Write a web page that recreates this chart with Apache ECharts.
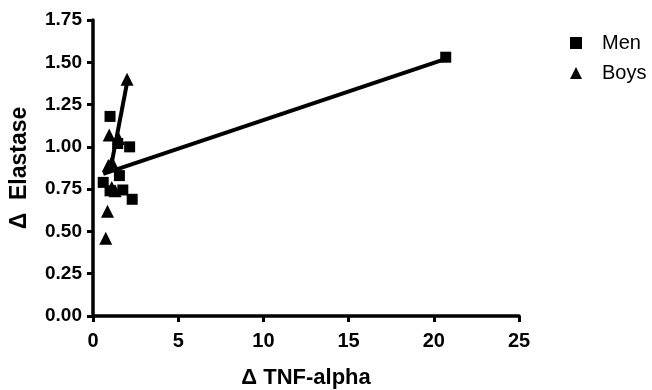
<!DOCTYPE html>
<html>
<head>
<meta charset="utf-8">
<script src="https://cdn.jsdelivr.net/npm/echarts@6/dist/echarts.min.js"></script>
<style>
  html, body { margin: 0; padding: 0; background: #fff; }
  #chart { width: 652px; height: 390px; }
</style>
</head>
<body>
<div id="chart"></div>
<script>
"use strict";
(() => {
    // delta TNF-alpha, delta elastase
    const menPoints = [
        [1.0, 1.18], [1.45, 1.02], [2.15, 1.00], [1.55, 0.83], [0.6, 0.79],
        [1.0, 0.74], [1.75, 0.745], [2.3, 0.69], [20.7, 1.53]
    ];
    const boysPoints = [
        [2.0, 1.40], [0.95, 1.07], [1.5, 1.05], [0.9, 0.89], [1.1, 0.91],
        [1.1, 0.76], [1.3, 0.74], [0.85, 0.62], [0.75, 0.46]
    ];
    const menFit = [[0.6, 0.84], [20.7, 1.52]];
    const boysFit = [[1.05, 0.88], [2.0, 1.38]];
    const xTicks = [0, 5, 10, 15, 20, 25];
    const yTicks = [0, 0.25, 0.5, 0.75, 1.0, 1.25, 1.5, 1.75];

    const font = "Liberation Sans";
    const axisLine = { show: true, onZero: false, lineStyle: { color: "#000", width: 3.5 } };
    const axisTick = { show: true, length: 6, lineStyle: { color: "#000", width: 3 } };

    const chart = echarts.init(document.getElementById("chart"));
    chart.setOption({
        animation: false,
        grid: { left: 93, top: 20, width: 426, height: 296, outerBoundsMode: "none", containLabel: false },
        legend: {
            orient: "vertical",
            left: 565,
            top: 28,
            itemGap: 10,
            itemWidth: 12,
            itemHeight: 12,
            textStyle: { fontFamily: font, fontSize: 20, color: "#000", padding: [0, 0, 0, 15] },
            data: [
                { name: "Men", icon: "rect", itemStyle: { opacity: 1 } },
                { name: "Boys", icon: "triangle", itemStyle: { opacity: 1 } }
            ]
        },
        xAxis: {
            type: "value",
            min: xTicks[0],
            max: xTicks[xTicks.length - 1],
            interval: 5,
            splitLine: { show: false },
            axisLine,
            axisTick,
            axisLabel: { fontFamily: font, fontWeight: "bold", fontSize: 20, color: "#000", margin: 15 },
            name: "\u0394 TNF-alpha",
            nameLocation: "middle",
            nameGap: 51,
            nameTextStyle: { fontFamily: font, fontWeight: "bold", fontSize: 22, color: "#000" }
        },
        yAxis: {
            type: "value",
            min: yTicks[0],
            max: yTicks[yTicks.length - 1],
            interval: 0.25,
            splitLine: { show: false },
            axisLine,
            axisTick,
            axisLabel: {
                fontFamily: font, fontWeight: "bold", fontSize: 19, color: "#000", margin: 11,
                formatter: (v) => v.toFixed(2)
            },
            name: "\u0394  Elastase",
            nameLocation: "middle",
            nameGap: 62,
            nameRotate: 90,
            nameTextStyle: { fontFamily: font, fontWeight: "bold", fontSize: 23, color: "#000" }
        },
        series: [
            {
                name: "Men fit",
                type: "line",
                data: menFit,
                symbol: "none",
                lineStyle: { color: "#000", width: 4 },
                z: 1
            },
            {
                name: "Boys fit",
                type: "line",
                data: boysFit,
                symbol: "none",
                lineStyle: { color: "#000", width: 4 },
                z: 1
            },
            {
                name: "Men",
                type: "scatter",
                data: menPoints,
                symbol: "rect",
                symbolSize: 11,
                itemStyle: { color: "#000", opacity: 1 },
                z: 3
            },
            {
                name: "Boys",
                type: "scatter",
                data: boysPoints,
                symbol: "triangle",
                symbolSize: [13, 13],
                itemStyle: { color: "#000", opacity: 1 },
                z: 3
            }
        ]
    });
})();
</script>
</body>
</html>
